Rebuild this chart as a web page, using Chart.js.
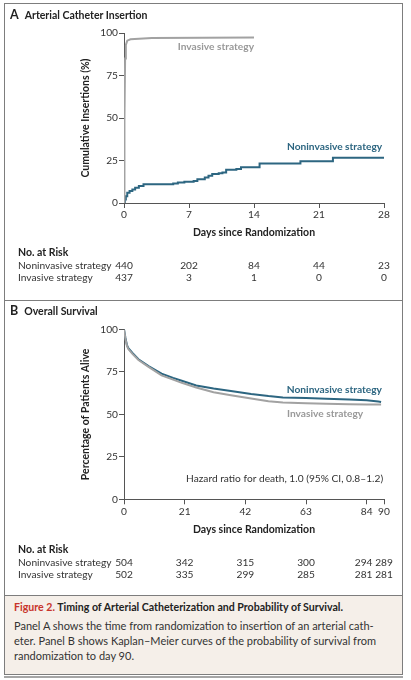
<!DOCTYPE html>
<html>
<head>
<meta charset="utf-8">
<script src="https://cdn.jsdelivr.net/npm/chart.js@4.4.1/dist/chart.umd.min.js"></script>
<style>
    body { margin: 0; background: #fff; font-family: Lato, "Open Sans", sans-serif; }
    .page { position: relative; width: 411px; height: 680px; overflow: hidden; }
    .frame { position: absolute; left: 4px; top: 3px; width: 397px; height: 670px; border: 1px solid #7d7d7d; }
    .sep { position: absolute; left: 4px; width: 399px; height: 1px; background: #7d7d7d; }
    .bottom-rule { position: absolute; left: 4px; top: 676px; width: 399px; height: 2px; background: #a5a5a5; }
    .panel-title { position: absolute; left: 10px; font-weight: bold; font-size: 10.5px; color: #222; line-height: 14px; }
    .panel-title span { font-size: 12.5px; margin-right: 6px; }
    canvas { position: absolute; left: 0; }
    .caption { position: absolute; left: 5px; top: 596px; width: 397px; height: 78px; background: #f5efe9;
               box-sizing: border-box; padding: 4px 0 0 9px; color: #333; font-size: 11px; line-height: 15.3px; }
    .caption .head { font-weight: bold; font-size: 10.6px; color: #222; margin-bottom: 2.5px; }
    .caption .head em { font-style: normal; color: #c8342b; }
</style>
</head>
<body>
<div class="page">
    <div class="frame"></div>
    <div class="sep" style="top:300px"></div>
    <div class="sep" style="top:595px"></div>
    <div class="bottom-rule"></div>

    <canvas id="chartA" width="411" height="297" style="top:0"></canvas>
    <canvas id="chartB" width="411" height="295" style="top:300px"></canvas>

    <div class="panel-title" style="top:8px"><span>A</span>Arterial Catheter Insertion</div>
    <div class="panel-title" style="top:304px"><span>B</span>Overall Survival</div>

    <div class="caption">
        <div class="head"><em>Figure 2.</em> Timing of Arterial Catheterization and Probability of Survival.</div>
        Panel A shows the time from randomization to insertion of an arterial cath-<br>
        eter. Panel B shows Kaplan–Meier curves of the probability of survival from<br>
        randomization to day 90.
    </div>
</div>

<script>
    // Panel A: cumulative insertions (%) by day
    const aNonDays = [0, 0.1, 0.2, 0.35, 0.6, 0.9, 1.2, 1.6, 2.1, 5.3, 5.8, 6.5, 7.5, 7.9, 8.7, 9.1, 9.5, 10.2, 10.6, 11, 12.1, 12.6, 14.6, 19, 22.5, 28];
    const aNonPct  = [0, 2, 4, 6, 7, 8, 9, 10, 11, 11.5, 12, 12.5, 13, 14, 15, 16, 17, 17.5, 18, 19.5, 20, 21, 23.2, 24.6, 26.6, 26.6];
    const aInvDays = [0, 0.05, 0.12, 0.2, 0.35, 0.7, 3, 14];
    const aInvPct  = [0, 50, 85, 93, 95.5, 96.3, 97, 97.3];

    // Panel B: percentage of patients alive by day
    const bNonDays = [0, 0.5, 1, 1.5, 3, 5, 8.5, 13, 17, 20, 25, 31, 37, 44, 50, 55, 63, 70, 78, 84, 88, 89];
    const bNonPct  = [100, 95, 91, 89, 86, 82.5, 78.5, 74, 71.5, 69.8, 67, 65.2, 63.8, 62, 60.8, 60, 59.6, 59.2, 58.8, 58.3, 57.6, 57.3];
    const bInvDays = [0, 0.5, 1, 1.5, 3, 5, 8.5, 13, 17, 20, 25, 31, 37, 44, 50, 55, 63, 70, 78, 84, 89];
    const bInvPct  = [100, 94.5, 90.5, 88.5, 85.5, 82, 78, 73, 70.5, 68.6, 65.8, 63, 61.3, 59.3, 57.8, 57, 56.5, 56.2, 56, 55.9, 55.8];

    // ticks
    const xTicksA = [0, 7, 14, 21, 28];
    const xTicksB = [0, 21, 42, 63, 84, 90];
    const yTicks = [0, 25, 50, 75, 100];

    // number at risk
    const riskNames = ['Noninvasive strategy', 'Invasive strategy'];
    const riskNonA = [440, 202, 84, 44, 23];
    const riskInvA = [437, 3, 1, 0, 0];
    const riskNonB = [504, 342, 315, 300, 294, 289];
    const riskInvB = [502, 335, 299, 285, 281, 281];

    const TEAL = '#2d6681';
    const GRAY = '#a2a2a2';
    const INK = '#333';

    Chart.defaults.font.family = 'Lato, "Open Sans", sans-serif';
    Chart.defaults.color = INK;

    function pts(days, pct) {
        return days.map((d, i) => ({ x: d, y: pct[i] }));
    }

    // draws curve labels and the at-risk table using the chart's own scales
    const panelText = {
        id: 'panelText',
        afterDraw(chart, args, opts) {
            const { ctx } = chart;
            const x = chart.scales.x, y = chart.scales.y;
            ctx.save();
            ctx.textBaseline = 'middle';
            opts.labels.forEach(l => {
                ctx.font = l.font;
                ctx.fillStyle = l.color;
                ctx.textAlign = 'right';
                ctx.fillText(l.text, x.getPixelForValue(l.day), y.getPixelForValue(l.pct));
            });
            ctx.fillStyle = '#222';
            ctx.textAlign = 'left';
            ctx.font = 'bold 10.5px Lato';
            ctx.fillText('No. at Risk', 18, opts.riskTop);
            opts.rows.forEach((vals, i) => {
                const yy = opts.riskTop + 13 + i * 11.8;
                ctx.font = '10.2px Lato';
                ctx.fillStyle = INK;
                ctx.textAlign = 'left';
                ctx.fillText(riskNames[i], 18, yy);
                ctx.textAlign = 'center';
                vals.forEach((v, j) => ctx.fillText(v, x.getPixelForValue(opts.riskDays[j]) + (opts.shift[j] || 0), yy));
            });
            ctx.restore();
        }
    };

    function makeChart(id, cfg) {
        const plotLeft = 124, plotRight = 384;
        return new Chart(document.getElementById(id), {
            type: 'line',
            data: { datasets: cfg.datasets },
            options: {
                responsive: false,
                animation: false,
                layout: { padding: { left: 75, right: 411 - plotRight, top: cfg.top, bottom: cfg.padBottom } },
                plugins: { legend: { display: false }, tooltip: { enabled: false }, panelText: cfg.text },
                elements: { point: { radius: 0 }, line: { borderWidth: 2 } },
                scales: {
                    x: {
                        type: 'linear', min: 0, max: cfg.xMax,
                        afterFit: s => { s.height = cfg.xHeight; },
                        afterBuildTicks: s => { s.ticks = cfg.xTicks.map(v => ({ value: v })); },
                        grid: { drawOnChartArea: false, drawTicks: true, tickLength: 5, color: '#555' },
                        border: { color: '#555', width: 1 },
                        ticks: { font: { size: 10.2 }, color: INK, padding: 1, maxRotation: 0, autoSkip: false },
                        title: { display: true, text: 'Days since Randomization', font: { size: 10.5, weight: 'bold' }, color: '#222', padding: { top: 0, bottom: 1 } }
                    },
                    y: {
                        min: 0, max: 100,
                        afterFit: s => { s.width = plotLeft - 75; },
                        afterBuildTicks: s => { s.ticks = yTicks.map(v => ({ value: v })); },
                        grid: { drawOnChartArea: false, drawTicks: true, tickLength: 5, color: '#555' },
                        border: { color: '#555', width: 1 },
                        ticks: { font: { size: 10.2 }, color: INK, padding: 1 },
                        title: { display: true, text: cfg.yTitle, font: { size: 10.5, weight: 'bold' }, color: '#222', padding: { top: 4, bottom: 0 } }
                    }
                }
            },
            plugins: [panelText]
        });
    }

    makeChart('chartA', {
        top: 33, padBottom: 57, xHeight: 37, xMax: 28, xTicks: xTicksA,
        yTitle: 'Cumulative Insertions (%)',
        datasets: [
            { data: pts(aInvDays, aInvPct), borderColor: GRAY, borderWidth: 2 },
            { data: pts(aNonDays, aNonPct), borderColor: TEAL, borderWidth: 2, stepped: 'before' }
        ],
        text: {
            labels: [
                { text: 'Invasive strategy', day: 14, pct: 92.2, color: '#999', font: 'bold 10.2px Lato' },
                { text: 'Noninvasive strategy', day: 27.8, pct: 33.4, color: TEAL, font: 'bold 10.2px Lato' }
            ],
            riskTop: 253, riskDays: xTicksA, rows: [riskNonA, riskInvA], shift: []
        }
    });

    makeChart('chartB', {
        top: 29.5, padBottom: 57.7, xHeight: 38, xMax: 90, xTicks: xTicksB,
        yTitle: 'Percentage of Patients Alive',
        datasets: [
            { data: pts(bInvDays, bInvPct), borderColor: GRAY, borderWidth: 2 },
            { data: pts(bNonDays, bNonPct), borderColor: TEAL, borderWidth: 2 }
        ],
        text: {
            labels: [
                { text: 'Noninvasive strategy', day: 89.3, pct: 64.7, color: TEAL, font: 'bold 10.2px Lato' },
                { text: 'Invasive strategy', day: 82.8, pct: 50.6, color: '#999', font: 'bold 10.2px Lato' },
                { text: 'Hazard ratio for death, 1.0 (95% CI, 0.8–1.2)', day: 89.7, pct: 11.9, color: INK, font: '10.2px Lato' }
            ],
            riskTop: 250, riskDays: xTicksB, rows: [riskNonB, riskInvB], shift: [0, 0, 0, 0, -3, 0]
        }
    });
</script>
</body>
</html>
